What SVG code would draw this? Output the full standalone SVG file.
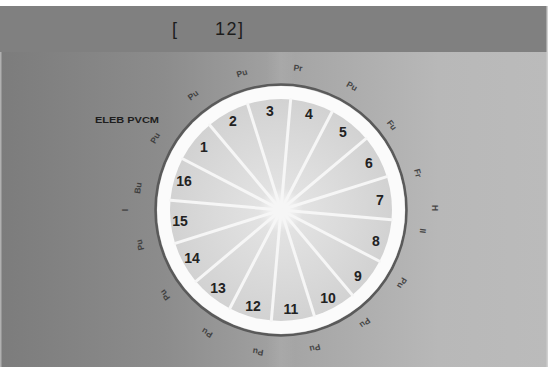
<svg xmlns="http://www.w3.org/2000/svg" width="549" height="374" viewBox="0 0 549 374">
<defs>
<linearGradient id="bg" x1="0" y1="0" x2="1" y2="0">
<stop offset="0" stop-color="#7c7c7c"/>
<stop offset="0.3" stop-color="#8c8c8c"/>
<stop offset="0.55" stop-color="#a6a6a6"/>
<stop offset="0.8" stop-color="#b8b8b8"/>
<stop offset="1" stop-color="#bbbbbb"/>
</linearGradient>
<radialGradient id="glow" cx="281" cy="210" r="111" gradientUnits="userSpaceOnUse">
<stop offset="0" stop-color="#ffffff"/>
<stop offset="0.2" stop-color="#e2e2e2"/>
<stop offset="1" stop-color="#d2d2d2"/>
</radialGradient>
<linearGradient id="vband" x1="0" y1="0" x2="1" y2="0">
<stop offset="0" stop-color="#ffffff" stop-opacity="0"/>
<stop offset="0.5" stop-color="#ffffff" stop-opacity="0.07"/>
<stop offset="1" stop-color="#ffffff" stop-opacity="0"/>
</linearGradient>
</defs>
<style>
.num{font-family:"Liberation Sans",Arial,sans-serif;font-weight:bold;font-size:14px;fill:#222222;text-anchor:middle;dominant-baseline:central}
.out{font-family:"Liberation Sans",Arial,sans-serif;font-weight:bold;font-size:8.5px;fill:#333333;text-anchor:middle;dominant-baseline:central;opacity:0.85}
.spoke{stroke:#f6f6f6;stroke-width:3;stroke-linecap:round}
.hdr{font-family:"Liberation Sans",Arial,sans-serif;font-size:18px;fill:#1c1c1c}
</style>
<rect x="0" y="0" width="549" height="374" fill="#ffffff"/>
<g id="header">
<rect x="0" y="6" width="548" height="46" fill="#808080"/>
<text class="hdr" x="172" y="35">[</text>
<text class="hdr" x="215" y="35" letter-spacing="1.5">12]</text>
</g>
<g id="background">
<rect x="0" y="52" width="548" height="315" fill="url(#bg)"/>
<rect x="0" y="52" width="1.5" height="315" fill="#b0b0b0"/>
<rect x="546.5" y="6" width="1.5" height="361" fill="#d0d0d0"/>
<rect x="266" y="52" width="30" height="315" fill="url(#vband)"/>
</g>
<g id="dial">
<circle cx="281" cy="210" r="125.5" fill="none" stroke="#5a5a5a" stroke-width="2.5"/>
<circle cx="281" cy="210" r="124" fill="#fbfbfb"/>
<circle cx="281" cy="210" r="111" fill="url(#glow)"/>
<g id="spokes">
<line class="spoke" x1="281" y1="210" x2="281" y2="99" transform="rotate(5 281 210)"/>
<line class="spoke" x1="281" y1="210" x2="281" y2="99" transform="rotate(27.5 281 210)"/>
<line class="spoke" x1="281" y1="210" x2="281" y2="99" transform="rotate(50 281 210)"/>
<line class="spoke" x1="281" y1="210" x2="281" y2="99" transform="rotate(72.5 281 210)"/>
<line class="spoke" x1="281" y1="210" x2="281" y2="99" transform="rotate(95 281 210)"/>
<line class="spoke" x1="281" y1="210" x2="281" y2="99" transform="rotate(117.5 281 210)"/>
<line class="spoke" x1="281" y1="210" x2="281" y2="99" transform="rotate(140 281 210)"/>
<line class="spoke" x1="281" y1="210" x2="281" y2="99" transform="rotate(162.5 281 210)"/>
<line class="spoke" x1="281" y1="210" x2="281" y2="99" transform="rotate(185 281 210)"/>
<line class="spoke" x1="281" y1="210" x2="281" y2="99" transform="rotate(207.5 281 210)"/>
<line class="spoke" x1="281" y1="210" x2="281" y2="99" transform="rotate(230 281 210)"/>
<line class="spoke" x1="281" y1="210" x2="281" y2="99" transform="rotate(252.5 281 210)"/>
<line class="spoke" x1="281" y1="210" x2="281" y2="99" transform="rotate(275 281 210)"/>
<line class="spoke" x1="281" y1="210" x2="281" y2="99" transform="rotate(297.5 281 210)"/>
<line class="spoke" x1="281" y1="210" x2="281" y2="99" transform="rotate(320 281 210)"/>
<line class="spoke" x1="281" y1="210" x2="281" y2="99" transform="rotate(342.5 281 210)"/>
</g>
<g id="sector-1"><text class="num" x="204" y="147">1</text></g>
<g id="sector-2"><text class="num" x="233" y="121">2</text></g>
<g id="sector-3"><text class="num" x="270" y="111">3</text></g>
<g id="sector-4"><text class="num" x="309" y="114">4</text></g>
<g id="sector-5"><text class="num" x="343" y="132">5</text></g>
<g id="sector-6"><text class="num" x="369" y="163">6</text></g>
<g id="sector-7"><text class="num" x="380" y="200">7</text></g>
<g id="sector-8"><text class="num" x="376" y="241">8</text></g>
<g id="sector-9"><text class="num" x="358" y="276">9</text></g>
<g id="sector-10"><text class="num" x="328" y="298">10</text></g>
<g id="sector-11"><text class="num" x="291" y="309">11</text></g>
<g id="sector-12"><text class="num" x="253" y="306">12</text></g>
<g id="sector-13"><text class="num" x="218" y="288">13</text></g>
<g id="sector-14"><text class="num" x="192" y="258">14</text></g>
<g id="sector-15"><text class="num" x="180" y="221">15</text></g>
<g id="sector-16"><text class="num" x="184" y="181">16</text></g>
</g>
<g id="outer-labels">
<text class="out" x="298" y="68" transform="rotate(7 298 68)">Pr</text>
<text class="out" x="352" y="86" transform="rotate(30 352 86)">Pu</text>
<text class="out" x="392" y="125" transform="rotate(53 392 125)">Fu</text>
<text class="out" x="418" y="173" transform="rotate(75 418 173)">Fr</text>
<text class="out" x="435" y="208" transform="rotate(90 435 208)">H</text>
<text class="out" x="423" y="231" transform="rotate(98 423 231)">II</text>
<text class="out" x="402" y="283" transform="rotate(121 402 283)">Pu</text>
<text class="out" x="365" y="323" transform="rotate(143 365 323)">Pu</text>
<text class="out" x="315" y="348" transform="rotate(166 315 348)">Pu</text>
<text class="out" x="258" y="352" transform="rotate(189 258 352)">Pu</text>
<text class="out" x="207" y="333" transform="rotate(211 207 333)">Pu</text>
<text class="out" x="165" y="295" transform="rotate(234 165 295)">Pu</text>
<text class="out" x="140" y="245" transform="rotate(256 140 245)">Pu</text>
<text class="out" x="125" y="210" transform="rotate(270 125 210)">I</text>
<text class="out" x="138" y="188" transform="rotate(279 138 188)">Bu</text>
<text class="out" x="155" y="138" transform="rotate(300 155 138)">Pu</text>
<text class="out" x="193" y="95" transform="rotate(323 193 95)">Pu</text>
<text class="out" x="242" y="73" transform="rotate(344 242 73)">Pu</text>
<text class="out" x="127" y="120" font-size="8" textLength="64" lengthAdjust="spacingAndGlyphs" style="opacity:1;fill:#1e1e1e">ELEB PVCM</text>
</g>
</svg>
